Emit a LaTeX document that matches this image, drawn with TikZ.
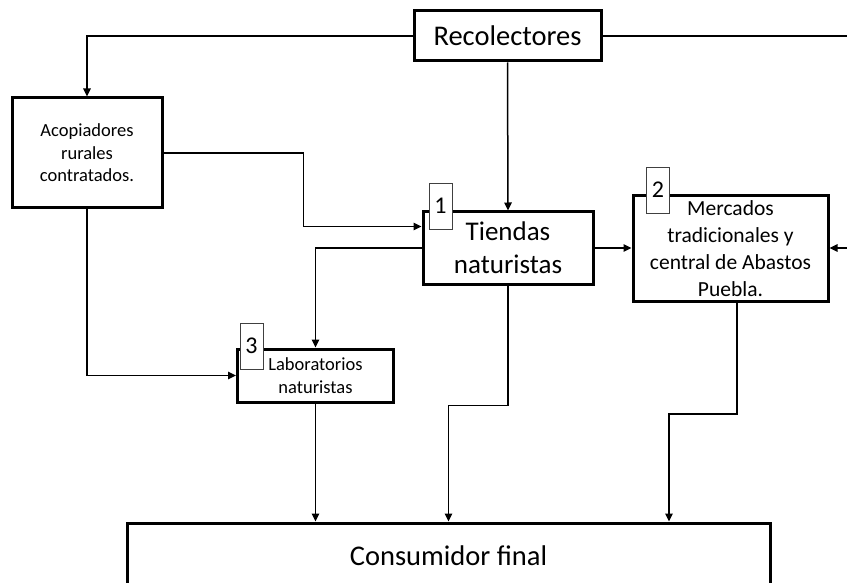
\documentclass[tikz,border=0pt]{standalone}
\usepackage{fontspec}
\setmainfont{Carlito}
\usetikzlibrary{arrows.meta}
\begin{document}
\begin{tikzpicture}[x=1pt,y=-1pt,
  box/.style={draw=black, line width=3pt, fill=white, inner sep=0pt, align=center},
  numbox/.style={draw=black!75, line width=0.9pt, fill=white, inner sep=0pt,
    minimum width=23pt, minimum height=46pt, font=\fontsize{24}{28}\selectfont},
  link/.style={line width=1.5pt},
  arr/.style={link, -{Triangle[length=8pt,width=7.5pt]}}]
  \clip (0,0) rectangle (847,583);
  \fill[white] (0,0) rectangle (847,583);

  % main boxes
  \node[box, minimum width=187pt, minimum height=50pt,
        font=\fontsize{28.5}{34}\selectfont] (rec) at (507.5,36) {Recolectores};
  \node[box, minimum width=150pt, minimum height=110pt,
        font=\fontsize{18.5}{22.5}\selectfont] (aco) at (87,153)
        {Acopiadores\\rurales\\contratados.};
  \node[box, minimum width=170pt, minimum height=72pt,
        font=\fontsize{27}{33}\selectfont] (tie) at (508,248) {Tiendas\\naturistas};
  \node[box, minimum width=195pt, minimum height=105pt,
        font=\fontsize{21.5}{27}\selectfont] (mer) at (730.5,248.5)
        {Mercados\\tradicionales y\\central de Abastos\\Puebla.};
  \node[box, minimum width=156pt, minimum height=53pt,
        font=\fontsize{18.5}{23}\selectfont] (lab) at (315.5,375.5)
        {Laboratorios\\naturistas};
  \node[box, minimum width=643pt, minimum height=66pt,
        font=\fontsize{28.5}{34}\selectfont] (con) at (448.5,556) {Consumidor final};

  % number tags
  \node[numbox] (n1) at (440.5,206) {1};
  \node[numbox] (n2) at (658,190) {2};
  \node[numbox] (n3) at (251.5,346) {3};

  % free ends at the right margin
  \coordinate (rout) at (850,36);
  \coordinate (rin) at (850,248);

  % connectors
  \draw[arr] (rec.west) -| (aco.north);
  \draw[link] (rec.east) -- (rout);
  \draw[arr] (rec.south) -- (tie.north);
  \draw[arr] (aco.east) -- ++(140,0) |- ([yshift=21.5pt]tie.west);
  \draw[arr] (aco.south) |- (lab.west);
  \draw[arr] (tie.west) -| (lab.north);
  \draw[arr] (tie.east) -- (tie.east -| mer.west);
  \draw[arr] (rin) -- (rin -| mer.east);
  \draw[arr] (lab.south) -- (lab.south |- con.north);
  \draw[arr] (tie.south) -- ++(0,120) -| (con.north);
  \draw[arr] ([xshift=6.5pt]mer.south) -- ++(0,111.5) -| ([xshift=220.5pt]con.north);
\end{tikzpicture}
\end{document}
